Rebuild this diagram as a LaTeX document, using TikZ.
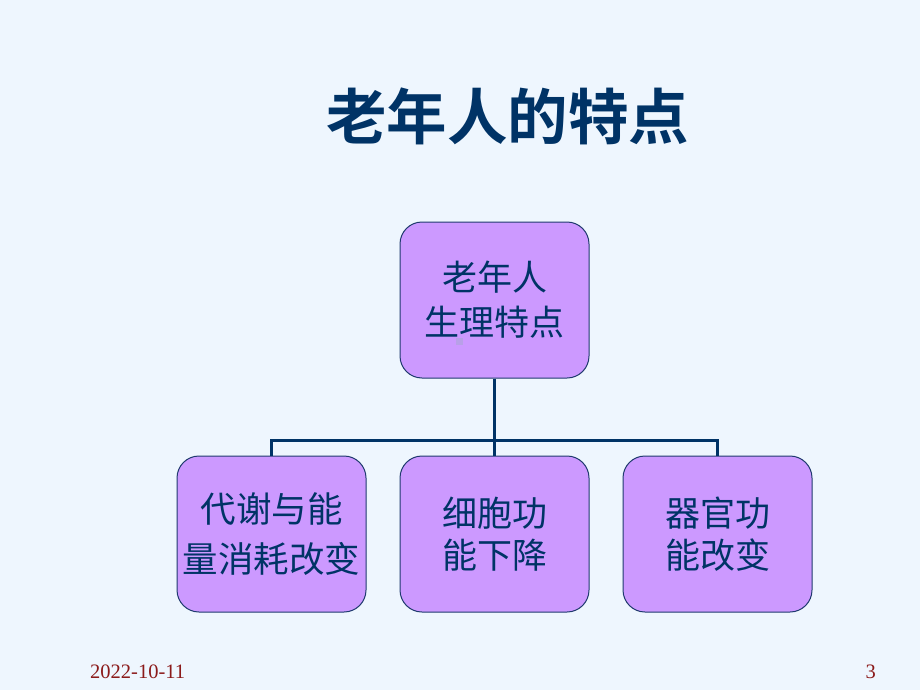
\documentclass[tikz,border=0pt]{standalone}
\usepackage{fontspec}
\setmainfont{Liberation Serif}
\newfontfamily\cjk{Noto Sans CJK SC}[BoldFont={Noto Sans CJK SC Bold}]
\definecolor{bgcol}{HTML}{EEF6FE}
\definecolor{boxfill}{HTML}{CC99FF}
\definecolor{boxline}{HTML}{1F3A6E}
\definecolor{navy}{HTML}{003366}
\definecolor{datecol}{HTML}{8B1A1A}
\definecolor{dotcol}{HTML}{B8A0E8}
\tikzset{
  box/.style={rectangle, rounded corners=22pt, draw=boxline, fill=boxfill, line width=1pt,
    minimum width=189pt, minimum height=156pt, align=center, text=navy,
    font=\cjk\fontsize{35}{45}\selectfont, inner sep=0pt},
  link/.style={draw=navy, line width=3pt},
  foot/.style={text=datecol, font=\fontsize{20.5}{22}\selectfont, inner sep=0pt}
}
\begin{document}
\begin{tikzpicture}[x=1pt, y=-1pt]
\useasboundingbox (0,0) rectangle (920,690);
\fill[bgcol] (0,0) rectangle (920,690);
\node[text=navy, font=\cjk\bfseries\fontsize{60.5}{66}\selectfont, inner sep=0pt] (title) at (507.5,116) {老年人的特点};
\node[box] (top) at (494.5,300) {老年人\\生理特点};
\fill[dotcol] (456,338) rectangle (463,345);
\node[box, font=\cjk\fontsize{35.5}{50}\selectfont] (b1) at (271.5,534) {代谢与能\\量消耗改变};
\node[box, font=\cjk\fontsize{35}{42}\selectfont] (b2) at (494.5,534) {细胞功\\能下降};
\node[box, font=\cjk\fontsize{35}{42}\selectfont] (b3) at (717.5,534) {器官功\\能改变};
\coordinate (j) at (494.5,440);
\draw[link] (top.south) -- (j);
\draw[link, line cap=rect] (b1.north |- j) -- (b3.north |- j);
\draw[link] (b1.north |- j) -- (b1.north);
\draw[link] (j) -- (b2.north);
\draw[link] (b3.north |- j) -- (b3.north);
\node[foot, anchor=base west] (date) at (90,678) {2022-10-11};
\node[foot, anchor=base east] (page) at (876,678) {3};
\end{tikzpicture}
\end{document}
